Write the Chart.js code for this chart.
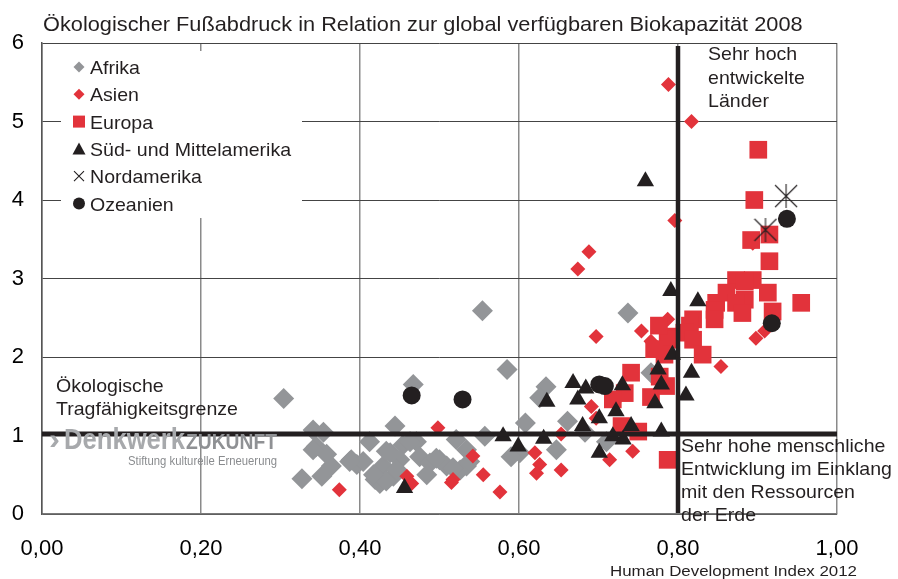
<!DOCTYPE html>
<html lang="de">
<head>
<meta charset="utf-8">
<title>Ökologischer Fußabdruck und HDI</title>
<script src="https://cdn.jsdelivr.net/npm/chart.js@4.4.1/dist/chart.umd.min.js"></script>
<style>
  html, body { margin: 0; padding: 0; background: #fff; }
  #wrap { width: 898px; height: 579px; }
</style>
</head>
<body>
<div id="wrap"><canvas id="chart" width="898" height="579"></canvas></div>
<script>
// ===== DATA: [HDI 2012, ökologischer Fußabdruck 2008] =====
const afrika = [
  [0.304,1.47],[0.341,1.07],[0.354,1.04],[0.345,0.86],[0.358,0.76],[0.341,0.82],[0.327,0.45],
  [0.352,0.48],[0.364,0.61],[0.389,0.69],[0.396,0.63],[0.412,0.92],[0.444,1.12],[0.467,1.65],
  [0.419,0.44],[0.429,0.61],[0.438,0.78],[0.454,0.88],[0.471,0.92],[0.450,0.69],[0.425,0.39],
  [0.475,0.73],[0.488,0.65],[0.500,0.69],[0.521,0.95],[0.534,0.82],[0.526,0.56],[0.509,0.61],
  [0.484,0.50],[0.442,0.48],[0.534,0.61],[0.554,2.59],[0.585,1.84],[0.634,1.62],[0.626,1.48],
  [0.608,1.16],[0.661,1.18],[0.683,1.04],[0.557,0.99],[0.647,0.82],[0.601,0.78],[0.590,0.73],
  [0.710,0.92],[0.737,2.56],[0.766,1.80],[0.404,0.67],[0.433,0.80],[0.463,0.92],[0.446,0.57],
  [0.517,0.59],[0.538,0.67],[0.496,0.71],[0.433,0.42],[0.417,0.50],[0.387,0.67]
];
const asien = [
  [0.788,5.47],[0.817,5.00],[0.796,3.74],[0.688,3.34],[0.674,3.12],[0.787,2.48],[0.754,2.33],
  [0.697,2.26],[0.766,2.20],[0.894,3.45],[0.898,2.24],[0.909,2.33],[0.854,1.88],[0.691,1.37],
  [0.697,1.22],[0.720,1.43],[0.714,0.69],[0.743,0.80],[0.653,0.56],[0.653,1.02],[0.620,0.78],
  [0.626,0.63],[0.622,0.52],[0.542,0.74],[0.555,0.50],[0.576,0.28],[0.517,0.44],[0.498,1.10],
  [0.374,0.31],[0.459,0.48],[0.465,0.39],[0.515,0.40]
];
const europa = [
  [0.901,4.64],[0.896,4.00],[0.892,3.49],[0.915,3.56],[0.915,3.22],[0.955,2.69],[0.873,2.98],
  [0.894,2.98],[0.884,2.96],[0.913,2.82],[0.861,2.82],[0.884,2.73],[0.873,2.69],[0.848,2.69],
  [0.846,2.60],[0.881,2.56],[0.919,2.58],[0.846,2.48],[0.819,2.48],[0.815,2.40],[0.808,2.31],
  [0.819,2.22],[0.831,2.03],[0.787,2.26],[0.789,2.22],[0.783,2.03],[0.776,2.40],[0.770,2.10],
  [0.741,1.80],[0.733,1.54],[0.766,1.49],[0.785,1.63],[0.777,1.75],[0.729,1.12],[0.750,1.05],
  [0.787,0.69],[0.718,1.46]
];
const suedMittelamerika = [
  [0.759,4.24],[0.791,2.84],[0.825,2.71],[0.793,2.03],[0.775,1.84],[0.779,1.65],[0.771,1.41],
  [0.810,1.51],[0.817,1.80],[0.730,1.64],[0.722,1.31],[0.701,1.22],[0.741,1.12],[0.779,1.05],
  [0.718,0.99],[0.731,0.95],[0.701,0.78],[0.668,1.67],[0.684,1.60],[0.674,1.46],[0.635,1.43],
  [0.680,1.12],[0.580,0.99],[0.599,0.86],[0.631,0.96],[0.456,0.33]
];
const nordamerika = [[0.936,4.05],[0.910,3.62]];
const ozeanien = [[0.465,1.51],[0.529,1.46],[0.701,1.65],[0.708,1.63],[0.937,3.76],[0.918,2.43]];

const hdiTicks = [0, 0.2, 0.4, 0.6, 0.8, 1.0];
const footprintTicks = [0, 1, 2, 3, 4, 5, 6];
const grenzeFussabdruck = 1.02;   // Tragfähigkeitsgrenze
const grenzeHdi = 0.8;            // sehr hohe menschliche Entwicklung

// ===== STYLE =====
const FONT = '"Liberation Sans", Arial, Helvetica, sans-serif';
const INK = '#231f20';
const GREY = '#939598';
const RED = '#e2333b';

const toXY = arr => arr.map(([x, y]) => ({ x, y }));

// asterisk marker for Nordamerika (vertical stroke + X)
function asterisk(size) {
  const c = document.createElement('canvas');
  c.width = c.height = size;
  const g = c.getContext('2d');
  g.strokeStyle = INK;
  g.lineWidth = 1.1;
  g.beginPath();
  g.moveTo(size / 2, 0); g.lineTo(size / 2, size);
  g.moveTo(1, 1); g.lineTo(size - 1, size - 1);
  g.moveTo(size - 1, 1); g.lineTo(1, size - 1);
  g.stroke();
  return c;
}

// text with slight horizontal stretch like the original artwork
function txt(ctx, s, x, y, size, opts = {}) {
  ctx.save();
  ctx.font = `${opts.weight || 'normal'} ${size}px ${FONT}`;
  ctx.fillStyle = opts.color || INK;
  ctx.textBaseline = 'alphabetic';
  ctx.translate(x, y);
  let sx = opts.sx || 1.1;
  if (opts.width) sx = opts.width / ctx.measureText(s).width;
  ctx.scale(sx, 1);
  ctx.fillText(s, 0, 0);
  ctx.restore();
}

function marker(ctx, shape, x, y, s, color) {
  ctx.save();
  ctx.fillStyle = color;
  ctx.strokeStyle = color;
  ctx.beginPath();
  if (shape === 'diamond') {
    ctx.moveTo(x, y - s); ctx.lineTo(x + s, y); ctx.lineTo(x, y + s); ctx.lineTo(x - s, y);
    ctx.closePath(); ctx.fill();
  } else if (shape === 'square') {
    ctx.rect(x - s, y - s, 2 * s, 2 * s); ctx.fill();
  } else if (shape === 'triangle') {
    ctx.moveTo(x, y - s); ctx.lineTo(x + s, y + s * 0.85); ctx.lineTo(x - s, y + s * 0.85);
    ctx.closePath(); ctx.fill();
  } else if (shape === 'cross') {
    ctx.lineWidth = 1.1;
    ctx.moveTo(x - s, y - s); ctx.lineTo(x + s, y + s);
    ctx.moveTo(x + s, y - s); ctx.lineTo(x - s, y + s);
    ctx.stroke();
  } else {
    ctx.arc(x, y, s, 0, Math.PI * 2); ctx.fill();
  }
  ctx.restore();
}

const legendItems = [
  { label: 'Afrika', shape: 'diamond', size: 5.5, color: GREY },
  { label: 'Asien', shape: 'diamond', size: 5.5, color: RED },
  { label: 'Europa', shape: 'square', size: 6, color: RED },
  { label: 'Süd- und Mittelamerika', shape: 'triangle', size: 6.5, color: INK },
  { label: 'Nordamerika', shape: 'cross', size: 5, color: INK },
  { label: 'Ozeanien', shape: 'circle', size: 6, color: INK }
];

// ===== OVERLAY: legend, limit lines, notes =====
const overlay = {
  id: 'overlay',
  beforeDatasetsDraw(chart) {
    const ctx = chart.ctx;
    ctx.save();
    ctx.fillStyle = '#fff';
    ctx.fillRect(61, 51, 241, 167);
    ctx.restore();
    legendItems.forEach((it, i) => {
      const base = 74 + i * 27.3;
      marker(ctx, it.shape, 79, base - 7, it.size, it.color);
      txt(ctx, it.label, 90, base, 17.8);
    });
  },
  afterDatasetsDraw(chart) {
    const { ctx, chartArea: a, scales: { x, y } } = chart;
    ctx.save();
    ctx.strokeStyle = INK;
    ctx.lineWidth = 5;
    const yy = y.getPixelForValue(grenzeFussabdruck);
    ctx.beginPath(); ctx.moveTo(a.left, yy); ctx.lineTo(a.right, yy); ctx.stroke();
    ctx.lineWidth = 4.5;
    const xx = x.getPixelForValue(grenzeHdi);
    ctx.beginPath(); ctx.moveTo(xx, a.top + 3); ctx.lineTo(xx, a.bottom - 1); ctx.stroke();
    ctx.restore();

    // Denkwerk Zukunft watermark
    txt(ctx, '›', 49, 449, 30, { color: '#a7a9ac', weight: 'bold' });
    txt(ctx, 'Denkwerk', 64, 449, 30, { color: '#a7a9ac', weight: 'bold', width: 121 });
    txt(ctx, 'ZUKUNFT', 186, 449, 22, { color: '#8f9194', weight: 'bold', width: 91 });
    txt(ctx, 'Stiftung kulturelle Erneuerung', 128, 465, 12, { color: '#8a8c8f', width: 149 });
  },
  afterDraw(chart) {
    const ctx = chart.ctx;
    txt(ctx, 'Ökologischer Fußabdruck in Relation zur global verfügbaren Biokapazität 2008', 43, 31, 19.8);

    txt(ctx, 'Sehr hoch', 708, 60, 17.8);
    txt(ctx, 'entwickelte', 708, 83.5, 17.8);
    txt(ctx, 'Länder', 708, 107, 17.8);

    txt(ctx, 'Ökologische', 56, 392, 17.8);
    txt(ctx, 'Tragfähigkeitsgrenze', 56, 415, 17.8);

    ['Sehr hohe menschliche', 'Entwicklung im Einklang', 'mit den Ressourcen', 'der Erde']
      .forEach((s, i) => txt(ctx, s, 681, 451.5 + i * 23.3, 17.8));

    txt(ctx, 'Human Development Index 2012', 610, 576, 15.5, { width: 247 });
  }
};

// ===== CHART =====
const ds = (label, data, extra) => Object.assign({
  label, data: toXY(data), borderWidth: 0, hoverRadius: extra.pointRadius
}, extra);

new Chart(document.getElementById('chart'), {
  type: 'scatter',
  data: {
    datasets: [
      ds('Afrika', afrika, { pointStyle: 'rectRot', pointRadius: 10.5, backgroundColor: GREY, order: 6 }),
      ds('Asien', asien, { pointStyle: 'rectRot', pointRadius: 7.5, backgroundColor: RED, order: 5 }),
      ds('Europa', europa, { pointStyle: 'rect', pointRadius: 12.5, backgroundColor: RED, order: 4 }),
      ds('Süd- und Mittelamerika', suedMittelamerika, { pointStyle: 'triangle', pointRadius: 10, backgroundColor: INK, order: 3 }),
      ds('Nordamerika', nordamerika, { pointStyle: asterisk(24), pointRadius: 12, backgroundColor: INK, order: 2 }),
      ds('Ozeanien', ozeanien, { pointStyle: 'circle', pointRadius: 9, backgroundColor: INK, order: 1 })
    ]
  },
  options: {
    responsive: false,
    animation: false,
    events: [],
    layout: { padding: { top: 43, right: 61, left: 0, bottom: 0 } },
    plugins: { legend: { display: false }, tooltip: { enabled: false } },
    scales: {
      x: {
        type: 'linear', min: 0, max: 1,
        afterBuildTicks: s => { s.ticks = hdiTicks.map(v => ({ value: v })); },
        afterFit: s => { s.height = 65; },
        ticks: {
          color: '#000', padding: 20, maxRotation: 0,
          font: { family: FONT, size: 22, lineHeight: 1.35 },
          callback: v => v.toFixed(2).replace('.', ',')
        },
        grid: { color: '#8a8a8a', lineWidth: 1.5, drawTicks: false },
        border: { color: '#7a7a7a', width: 1.5 }
      },
      y: {
        type: 'linear', min: 0, max: 6,
        afterBuildTicks: s => { s.ticks = footprintTicks.map(v => ({ value: v })); },
        afterFit: s => { s.width = 42; },
        ticks: {
          color: '#000', padding: 18,
          font: { family: FONT, size: 22 }
        },
        grid: { color: '#444', lineWidth: 1, drawTicks: false },
        border: { color: '#555', width: 1.5 }
      }
    }
  },
  plugins: [overlay]
});
</script>
</body>
</html>
